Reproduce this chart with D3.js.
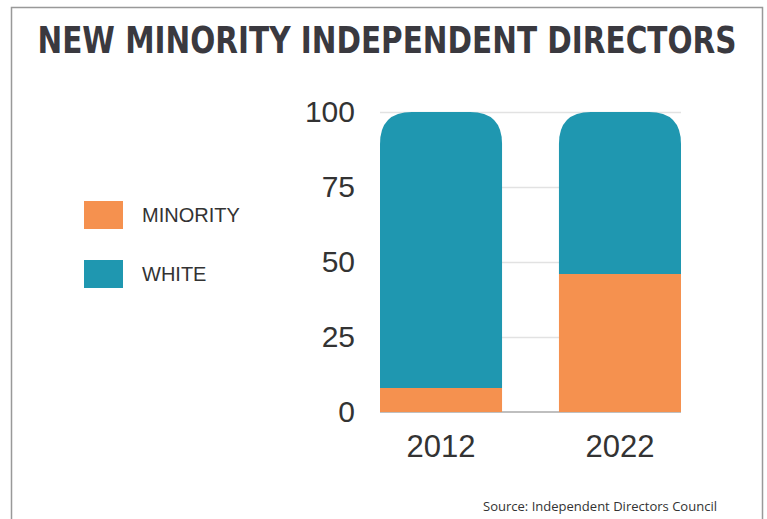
<!DOCTYPE html>
<html>
<head>
<meta charset="utf-8">
<script src="https://cdn.jsdelivr.net/npm/d3@7"></script>
<style>
  body { margin: 0; background: #fff; }
  svg { display: block; }
</style>
</head>
<body>
<div id="chart"></div>
<script>
// values (percent)
const years = ["2012", "2022"];
const minority = [8, 46];
const white = [92, 54];
const yTicks = [0, 25, 50, 75, 100];
const keys = ["minority", "white"];
const legendLabels = ["MINORITY", "WHITE"];

const width = 767, height = 519;
const colors = { minority: "#f5914f", white: "#1f97b0" };
const textColor = "#333";

const rows = years.map((yr, i) => ({ year: yr, minority: minority[i], white: white[i] }));

const svg = d3.select("#chart").append("svg")
  .attr("width", width)
  .attr("height", height);

// frame
svg.append("rect")
  .attr("x", 11.5).attr("y", 7.5)
  .attr("width", 751).attr("height", 540)
  .attr("fill", "none")
  .attr("stroke", "#999")
  .attr("stroke-width", 1.5);

// title, stretched a bit vertically to get the condensed look
svg.append("text")
  .attr("transform", "translate(387,53) scale(1,1.19)")
  .attr("text-anchor", "middle")
  .attr("font-family", "DejaVu Sans Condensed, DejaVu Sans, sans-serif")
  .attr("font-weight", "bold")
  .attr("font-size", 32)
  .attr("fill", "#3a393f")
  .attr("textLength", 699)
  .attr("lengthAdjust", "spacingAndGlyphs")
  .text("NEW MINORITY INDEPENDENT DIRECTORS");

const x = d3.scaleBand()
  .domain(years)
  .range([380, 681])
  .paddingInner(0.318)
  .paddingOuter(0);

const y = d3.scaleLinear()
  .domain([0, 100])
  .range([412, 112]);

// grid
svg.append("g")
  .attr("transform", "translate(380,0)")
  .call(d3.axisRight(y).tickValues(yTicks.filter(d => d > 0)).tickSize(301).tickFormat(""))
  .call(g => g.select(".domain").remove())
  .call(g => g.selectAll("line").attr("stroke", "#e2e2e2").attr("stroke-width", 1.5));

// zero line
svg.append("line")
  .attr("x1", 380).attr("x2", 681)
  .attr("y1", y(0)).attr("y2", y(0))
  .attr("stroke", "#aaa")
  .attr("stroke-width", 1.5);

const series = d3.stack().keys(keys)(rows);
const r = 32;

// segment path, top segment gets rounded top corners
function segPath(d, rounded) {
  const x0 = x(d.data.year), x1 = x0 + x.bandwidth();
  const yt = y(d[1]), yb = y(d[0]);
  if (!rounded) return `M${x0},${yb}V${yt}H${x1}V${yb}Z`;
  return `M${x0},${yb}V${yt + r}Q${x0},${yt} ${x0 + r},${yt}H${x1 - r}Q${x1},${yt} ${x1},${yt + r}V${yb}Z`;
}

svg.append("g")
  .selectAll("g")
  .data(series)
  .join("g")
  .attr("fill", s => colors[s.key])
  .selectAll("path")
  .data(s => s.map(d => ({ d, top: s.key === "white" })))
  .join("path")
  .attr("d", o => segPath(o.d, o.top));

// y axis labels
svg.append("g")
  .attr("transform", "translate(380,0)")
  .call(d3.axisLeft(y).tickValues(yTicks).tickSize(0).tickPadding(25))
  .call(g => g.select(".domain").remove())
  .call(g => g.selectAll("text")
    .attr("font-family", "Liberation Sans, Arial, sans-serif")
    .attr("font-size", 30)
    .attr("fill", textColor));

// x axis labels
svg.append("g")
  .attr("transform", `translate(0,${y(0)})`)
  .call(d3.axisBottom(x).tickSize(0).tickPadding(23))
  .call(g => g.select(".domain").remove())
  .call(g => g.selectAll("text")
    .attr("font-family", "Liberation Sans, Arial, sans-serif")
    .attr("font-size", 31)
    .attr("fill", textColor));

// legend
const legend = svg.append("g")
  .selectAll("g")
  .data(keys)
  .join("g")
  .attr("transform", (d, i) => `translate(84,${201 + i * 59})`);

legend.append("rect")
  .attr("width", 39).attr("height", 28)
  .attr("fill", d => colors[d]);

legend.append("text")
  .attr("x", 58).attr("y", 14)
  .attr("dy", "0.35em")
  .attr("font-family", "Liberation Sans, Arial, sans-serif")
  .attr("font-size", 20)
  .attr("fill", textColor)
  .text((d, i) => legendLabels[i]);

svg.append("text")
  .attr("x", 717).attr("y", 511)
  .attr("text-anchor", "end")
  .attr("font-family", "Open Sans, Noto Sans, sans-serif")
  .attr("font-size", 13)
  .attr("fill", textColor)
  .attr("textLength", 234)
  .attr("lengthAdjust", "spacingAndGlyphs")
  .text("Source: Independent Directors Council");
</script>
</body>
</html>
